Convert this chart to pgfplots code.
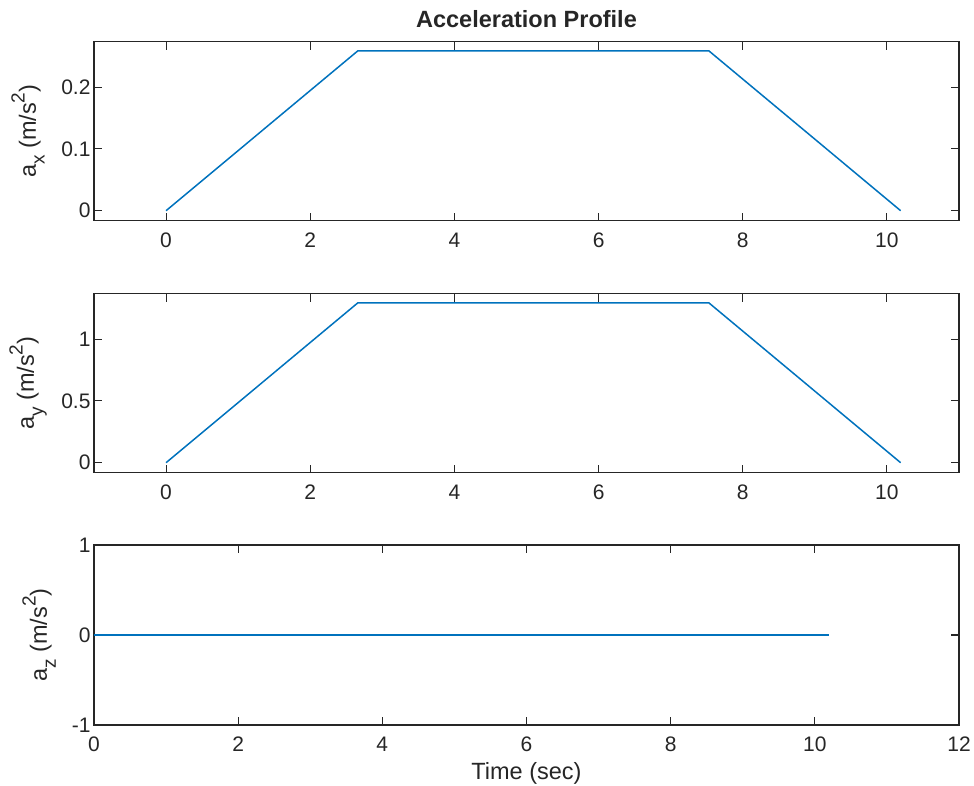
\documentclass[border=0pt]{standalone}
\usepackage{fontspec}
\setmainfont{Liberation Sans}
\usepackage{pgfplots}
\pgfplotsset{compat=1.18}
\definecolor{mblue}{HTML}{0072BD}
\definecolor{mgray}{HTML}{262626}
\newcommand{\sbx}[1]{\raisebox{-0.38em}{\fontsize{19}{20}\selectfont #1}}
\newcommand{\spx}[1]{\raisebox{0.48em}{\fontsize{19}{20}\selectfont #1}}
\pgfplotsset{mstyle/.style={
  scale only axis, width=865pt, height=179pt,
  axis line style={mgray, line width=1.1pt},
  every tick/.style={mgray, line width=1.1pt},
  major tick length=8pt, tick align=inside,
  xtick pos=both, ytick pos=both,
  tick label style={font=\fontsize{21}{24}\selectfont, text=mgray},
  /pgf/number format/assume math mode=true,
  xticklabel style={anchor=base, yshift=-26.7pt},
  label style={font=\fontsize{23.5}{26}\selectfont, text=mgray},
}}
\begin{document}
\begin{tikzpicture}
\path[use as bounding box] (0,0) rectangle (974pt,785pt);
% top axis
\begin{axis}[mstyle, at={(94pt,564.3pt)}, anchor=south west,
  xmin=-1, xmax=11, ymin=-0.0162, ymax=0.2735,
  xtick={0,2,4,6,8,10}, ytick={0,0.1,0.2},
  ylabel={a\sbx{x} (m/s\spx{2})},
  ylabel style={at={(axis description cs:-0.0763,0.5)}, anchor=center},
  title={Acceleration Profile},
  title style={font=\fontsize{23.5}{26}\selectfont\bfseries, text=mgray, at={(0.5,1)}, anchor=base, yshift=8.5pt},
  ]
\addplot[mblue, line width=1.5pt, line join=round, no markers] coordinates {(0,0) (2.66,0.2587) (7.53,0.2587) (10.19,0)};
\end{axis}
% middle axis
\begin{axis}[mstyle, at={(94pt,312.3pt)}, anchor=south west,
  xmin=-1, xmax=11, ymin=-0.081, ymax=1.3675,
  xtick={0,2,4,6,8,10}, ytick={0,0.5,1},
  ylabel={a\sbx{y} (m/s\spx{2})},
  ylabel style={at={(axis description cs:-0.0763,0.5)}, anchor=center},
  ]
\addplot[mblue, line width=1.5pt, line join=round, no markers] coordinates {(0,0) (2.66,1.2935) (7.53,1.2935) (10.19,0)};
\end{axis}
% bottom axis
\begin{axis}[mstyle, at={(94pt,60pt)}, anchor=south west, height=180pt,
  xmin=0, xmax=12, ymin=-1, ymax=1,
  xtick={0,2,4,6,8,10,12}, ytick={-1,0,1},
  ylabel={a\sbx{z} (m/s\spx{2})},
  ylabel style={at={(axis description cs:-0.0635,0.5)}, anchor=center},
  xlabel={Time (sec)},
  xlabel style={at={(axis description cs:0.5,0)}, anchor=base, yshift=-54.7pt},
  ]
\addplot[mblue, line width=1.5pt, no markers] coordinates {(0,0) (10.2,0)};
\end{axis}
\end{tikzpicture}
\end{document}
